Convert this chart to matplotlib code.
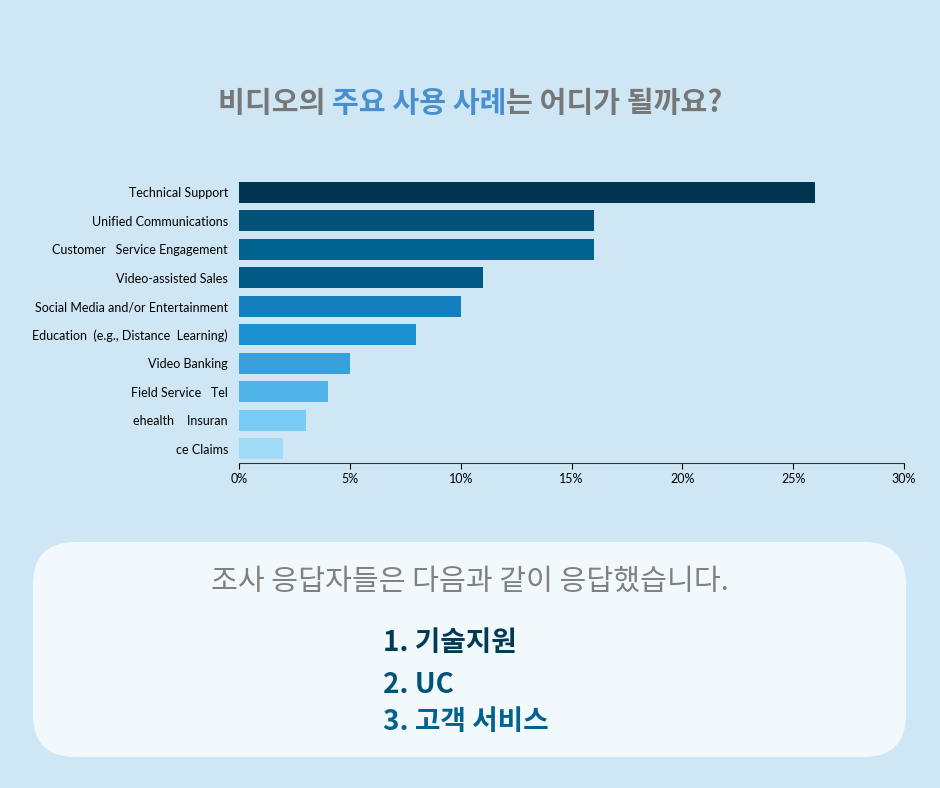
import matplotlib
matplotlib.use("Agg")
import matplotlib.pyplot as plt
from matplotlib.patches import FancyBboxPatch

categories = ["Technical Support", "Unified Communications", "Customer   Service Engagement",
              "Video-assisted Sales", "Social Media and/or Entertainment",
              "Education  (e.g., Distance  Learning)", "Video Banking", "Field Service   Tel",
              "ehealth    Insuran", "ce Claims"]
values = [26, 16, 16, 11, 10, 8, 5, 4, 3, 2]
colors = ["#00344f", "#005278", "#00628f", "#005a85", "#137fbf", "#1a90d0",
          "#3aa0dc", "#50b4e8", "#78ccf5", "#a0dcf8"]
xticks = [0, 5, 10, 15, 20, 25, 30]

KR = ["Noto Sans CJK KR", "Noto Sans CJK JP", "Noto Sans CJK SC", "Noto Sans CJK TC", "DejaVu Sans"]
bg = "#cfe7f5"
fig = plt.figure(figsize=(9.4, 7.88), dpi=100, facecolor=bg)
ax = fig.add_axes([239/940, 1-463/788, (904-239)/940, (463-178)/788])
ax.set_facecolor(bg)
y = range(len(categories))
ax.barh(list(y), values, color=colors, height=0.72)
ax.set_ylim(len(categories)-0.5, -0.5)
ax.set_xlim(0, 30)
ax.set_yticks(list(y))
ax.set_yticklabels(categories, fontsize=9, family="Lato")
ax.set_xticks(xticks)
ax.set_xticklabels([f"{t}%" for t in xticks], fontsize=9, family="Lato")
ax.tick_params(axis="y", length=0, pad=8)
ax.tick_params(axis="x", length=4, direction="out")
for s in ["top", "right", "left"]:
    ax.spines[s].set_visible(False)
ax.spines["bottom"].set_color("#333333")

# Title
fs = 21
parts = [("비디오의 ", "#777777"), ("주요 사용 사례", "#4a90d0"), ("는 어디가 될까요?", "#777777")]
r = fig.canvas.get_renderer()
widths = []
for p, c in parts:
    t = fig.text(0, 0, p, fontsize=fs, fontweight="bold", family=KR)
    widths.append(t.get_window_extent(r).width)
    t.remove()
x = 470 - sum(widths) / 2
for (p, c), w in zip(parts, widths):
    fig.text(x/940, 1-103/788, p, ha="left", va="center", fontsize=fs,
             fontweight="bold", family=KR, color=c)
    x += w

box = FancyBboxPatch((33/940, 1-757/788), (906-33)/940, (757-542)/788,
                     boxstyle="round,pad=0,rounding_size=0.045", transform=fig.transFigure,
                     facecolor="#f2f9fd", edgecolor="none", mutation_aspect=940/788)
fig.patches.append(box)
fig.text(0.5, 1-582/788, "조사 응답자들은 다음과 같이 응답했습니다.", ha="center", va="center",
         fontsize=21, color="#808080", family=KR)
lines = [("1. 기술지원", "#003a55", 643), ("2. UC", "#005278", 685), ("3. 고객 서비스", "#00628f", 722)]
for txt, c, yy in lines:
    fig.text(383/940, 1-yy/788, txt, ha="left", va="center", fontsize=20,
             fontweight="bold", color=c, family=KR)

fig.savefig("out.png", dpi=100, facecolor=bg)
